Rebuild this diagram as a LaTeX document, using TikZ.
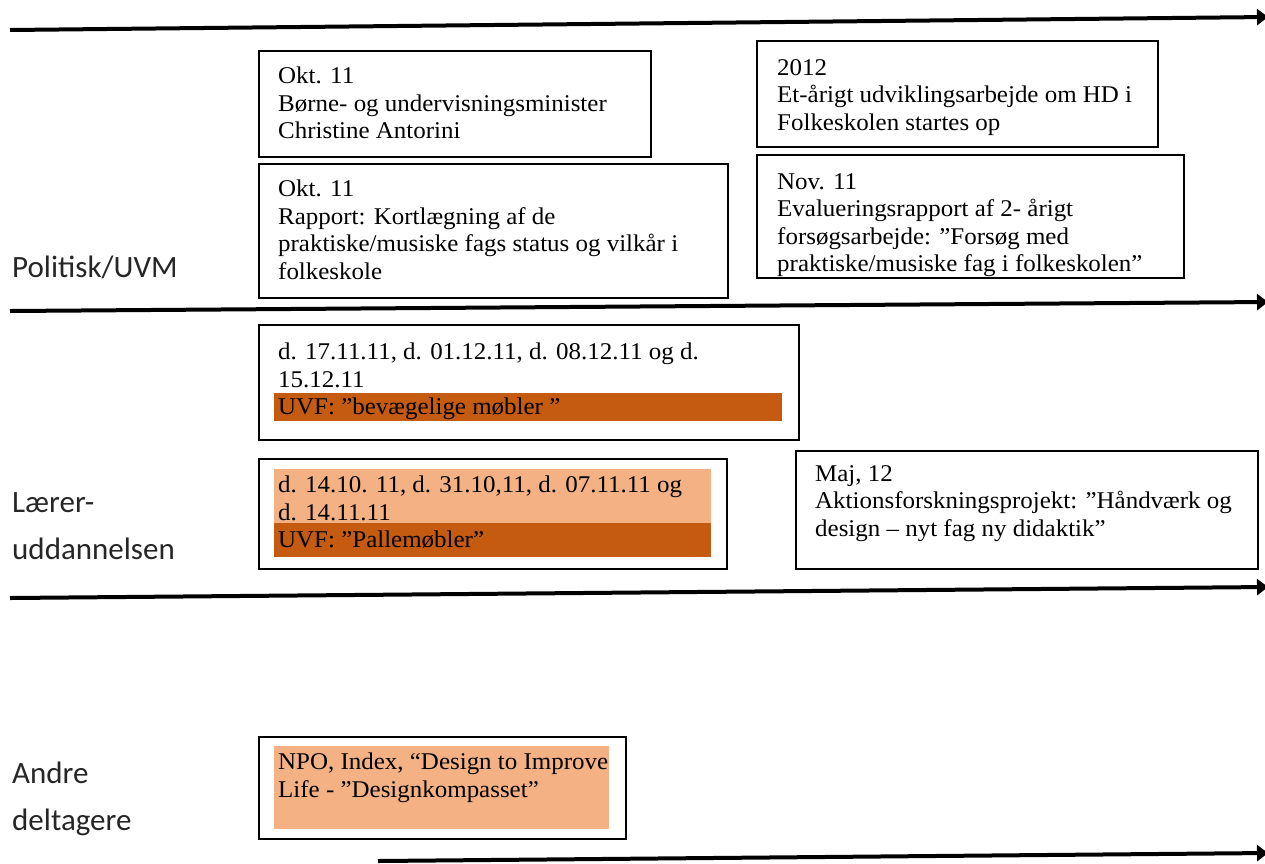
\documentclass[tikz,border=0pt]{standalone}
\usepackage{fontspec}
\setmainfont[FakeStretch=1.04]{Liberation Serif}
\newfontfamily\lblfont{Carlito}
\usetikzlibrary{arrows.meta}

\definecolor{barDark}{RGB}{197,90,17}
\definecolor{barLight}{RGB}{244,177,131}

\newcommand\evfont{\fontsize{24}{27.5}\selectfont}

\begin{document}
\begin{tikzpicture}[x=1pt,y=-1pt,
                    frm/.style={draw,
                                line width=1.8pt,
                                anchor=north west,
                                inner sep=0pt},
                    txt/.style={anchor=north west,
                                inner sep=0pt,
                                align=left,
                                font=\evfont},
                    lbl/.style={anchor=north west,
                                inner sep=0pt,
                                align=left,
                                text=black!85,
                                font=\lblfont\fontsize{31}{47}\selectfont},
                    darkbar/.style={fill=barDark, anchor=north west, inner sep=0pt},
                    lightbar/.style={fill=barLight, anchor=north west, inner sep=0pt},
                    tline/.style={line width=4pt,
                                  -{Triangle[length=11pt,width=16pt]}}]
    \useasboundingbox (0,0) rectangle (1265,863);

    % time lines
    \coordinate (t1a) at (10,30);   \coordinate (t1b) at (1268,17);
    \coordinate (t2a) at (10,311);  \coordinate (t2b) at (1268,302);
    \coordinate (t3a) at (10,598);  \coordinate (t3b) at (1268,587);
    \coordinate (t4a) at (378,861); \coordinate (t4b) at (1268,853);
    \draw[tline] (t1a) -- (t1b);
    \draw[tline] (t2a) -- (t2b);
    \draw[tline] (t3a) -- (t3b);
    \draw[tline] (t4a) -- (t4b);

    % row labels
    \node[lbl] (polit) at (12,256) {Politisk/UVM};
    \node[lbl] (laerer) at (12,492) {Lærer-\\uddannelsen};
    \node[lbl] (andre)  at (12,762) {Andre\\deltagere};

    % Politisk/UVM
    \node[frm, minimum width=392pt, minimum height=106pt] (minister) at (258,50) {};
    \node[txt] (ministerT) at (278,67) {Okt. 11\\Børne- og undervisningsminister\\Christine Antorini};

    \node[frm, minimum width=469pt, minimum height=134pt] (rapport) at (258,163) {};
    \node[txt] (rapportT) at (278,180) {Okt. 11\\Rapport: Kortlægning af de\\praktiske/musiske fags status og vilkår i\\folkeskole};

    \node[frm, minimum width=401pt, minimum height=106pt] (hd) at (756,40) {};
    \node[txt] (hdT) at (777,59) {2012\\Et-årigt udviklingsarbejde om HD i\\Folkeskolen startes op};

    \node[frm, minimum width=427pt, minimum height=123pt] (evaluering) at (756,154) {};
    \begin{scope}
        \clip (evaluering.south west) rectangle (evaluering.north east);
        \node[txt] (evalueringT) at (777,173) {Nov. 11\\Evalueringsrapport af 2- årigt\\forsøgsarbejde: ”Forsøg med\\praktiske/musiske fag i folkeskolen”};
    \end{scope}

    % Læreruddannelsen
    \node[frm, minimum width=540pt, minimum height=115pt] (moebler) at (258,324) {};
    \node[darkbar, minimum width=508pt, minimum height=28pt] (moeblerBar) at (274,393) {};
    \node[txt] (moeblerT) at (278,343) {d. 17.11.11, d. 01.12.11, d. 08.12.11 og d.\\15.12.11};
    \node[txt] (moeblerU) at (278,398) {UVF: ”bevægelige møbler ”};

    \node[frm, minimum width=468pt, minimum height=110pt] (palle) at (258,458) {};
    \node[lightbar, minimum width=437pt, minimum height=54pt] (palleLys) at (274,469) {};
    \node[darkbar, minimum width=437pt, minimum height=34pt] (palleBar) at (274,523) {};
    \node[txt] (palleT) at (278,476) {d. 14.10. 11, d. 31.10,11, d. 07.11.11 og\\d. 14.11.11};
    \node[txt] (palleU) at (278,531) {UVF: ”Pallemøbler”};

    \node[frm, minimum width=462pt, minimum height=118pt] (aktion) at (795,450) {};
    \node[txt] (aktionT) at (815,465) {Maj, 12\\Aktionsforskningsprojekt: ”Håndværk og\\design – nyt fag ny didaktik”};

    % Andre deltagere
    \node[frm, minimum width=367pt, minimum height=102pt] (index) at (258,736) {};
    \node[lightbar, minimum width=335pt, minimum height=83pt] (indexLys) at (274,746) {};
    \node[txt] (indexT) at (278,753) {NPO, Index, “Design to Improve\\Life - ”Designkompasset”};
\end{tikzpicture}
\end{document}
